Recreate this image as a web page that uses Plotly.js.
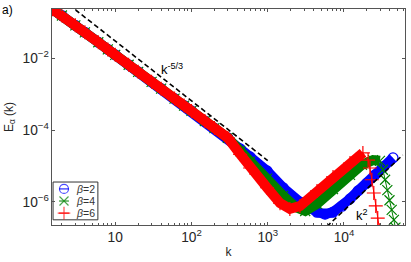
<!DOCTYPE html>
<html>
<head>
<meta charset="utf-8">
<script src="https://cdn.plot.ly/plotly-3.0.1.min.js"></script>
<style>html,body{margin:0;padding:0;background:#fff;}#chart{width:411px;height:262px;}</style>
</head>
<body>
<div id="chart"></div>
<script>
// ---- data (k, E_alpha(k)) ----
var kCommon = [1.5, 2, 3, 4, 6, 8, 10, 15, 20, 30, 40, 60, 80, 100, 150, 200, 300];
var eCommon = [0.235, 0.156, 0.083, 0.053, 0.028, 0.0177, 0.0125, 0.0066, 0.0042, 0.0022, 0.00142, 0.00075, 0.00048, 0.00034, 0.000178, 0.000113, 0.00006];

// beta = 2 (blue)
var kB2 = [435, 587, 980, 1590, 2650, 4430, 5640, 7180, 9420, 12000, 15300, 20000, 25500, 32400, 43900];
var eB2 = [2.96e-5, 1.77e-5, 7.2e-6, 2.45e-6, 9.8e-7, 5.1e-7, 4.5e-7, 5.1e-7, 7.5e-7, 1.2e-6, 2.0e-6, 3.3e-6, 5.6e-6, 9.4e-6, 1.67e-5];

// beta = 4 (green)
var kB4 = [435, 587, 980, 1590, 2300, 3100, 4430, 7180, 12000, 17200, 24000, 29600];
var eB4 = [2.6e-5, 1.3e-5, 4.4e-6, 1.46e-6, 7.1e-7, 5.5e-7, 8.7e-7, 2.24e-6, 5.6e-6, 1.07e-5, 1.45e-5, 1.38e-5];
var kB4tail = [29600, 32400, 34600, 37000, 39500, 42200, 45100, 47300];
var eB4tail = [1.38e-5, 7.8e-6, 4.1e-6, 2.1e-6, 1.1e-6, 5.9e-7, 3.1e-7, 1.9e-7];

// beta = 6 (red)
var kB6 = [435, 587, 980, 1450, 1950, 2650, 4430, 7180, 12000, 17700];
var eB6 = [2.1e-5, 8.7e-6, 2.45e-6, 9.1e-7, 6.3e-7, 7.6e-7, 2.0e-6, 4.9e-6, 1.2e-5, 2.3e-5];
var kB6tail = [17700, 20700, 21900, 23200, 24600, 26100, 27700, 29400];
var eB6tail = [2.3e-5, 1.45e-5, 8.7e-6, 4.1e-6, 1.75e-6, 7.6e-7, 3.5e-7, 1.6e-7];

// reference slopes
var refK53 = [3, 1000];
var refE53 = [0.226, 1.4e-5];
var refK2 = [5000, 59000];
var refE2 = [1.43e-7, 2.0e-5];

var seriesNames = ['\u03b2=2', '\u03b2=4', '\u03b2=6'];
var colors = ['#0000ff', '#008000', '#ff0000'];
var symbols = ['circle-open', 'x-thin-open', 'cross-thin-open'];

var body = [
  {k: kCommon.concat(kB2), e: eCommon.concat(eB2), tk: [], te: []},
  {k: kCommon.concat(kB4), e: eCommon.concat(eB4), tk: kB4tail, te: eB4tail},
  {k: kCommon.concat(kB6), e: eCommon.concat(eB6), tk: kB6tail, te: eB6tail}
];

var traces = [];
body.forEach(function (s, i) {
  traces.push({x: s.k, y: s.e, mode: 'lines', line: {color: colors[i], width: 10},
    hoverinfo: 'skip', showlegend: false});
  traces.push({x: s.k.concat(s.tk.slice(1)), y: s.e.concat(s.te.slice(1)), mode: 'lines+markers',
    name: seriesNames[i], showlegend: false,
    line: {color: colors[i], width: 1},
    marker: {symbol: symbols[i], size: 10, color: colors[i], line: {color: colors[i], width: 1.2}}});
});

traces.push({x: refK53, y: refE53, mode: 'lines', showlegend: false,
  line: {color: '#000', width: 1.6, dash: '5px,3px'}});
traces.push({x: refK2, y: refE2, mode: 'lines', showlegend: false,
  line: {color: '#000', width: 1.6, dash: '5px,3px'}});

// hand-built legend (drawn on an overlay axis in plot-fraction units)
var legRows = [0.167, 0.111, 0.055];
for (var i = 0; i < 3; i++) {
  traces.push({x: [0.020, 0.034, 0.048], y: [legRows[i], legRows[i], legRows[i]],
    xaxis: 'x2', yaxis: 'y2', mode: 'lines+markers', showlegend: false, hoverinfo: 'skip',
    line: {color: colors[i], width: 1},
    marker: {symbol: symbols[i], size: [0, 9, 0], color: colors[i], line: {color: colors[i], width: 1.2}}});
}

var font = {family: 'Liberation Sans, Arial, sans-serif', size: 11, color: '#262626'};
var labelFont = {family: 'Liberation Sans, Arial, sans-serif', size: 12, color: '#262626'};
var axisCommon = {
  type: 'log', showgrid: false, zeroline: false, showline: true, linecolor: '#555', linewidth: 1,
  mirror: 'allticks', ticks: 'inside', ticklen: 3, tickcolor: '#555', tickwidth: 1,
  exponentformat: 'power', tickfont: font
};

function legendText(txt, y) {
  return {text: txt, xref: 'paper', yref: 'paper', x: 0.064, y: y, xanchor: 'left', yanchor: 'middle',
    showarrow: false, borderpad: 0, font: {family: font.family, size: 10.5, color: '#333'}};
}

var layout = {
  width: 411, height: 262,
  margin: {l: 52, r: 6, t: 9, b: 37},
  paper_bgcolor: '#fff', plot_bgcolor: '#fff',
  font: font,
  showlegend: false,
  xaxis: Object.assign({}, axisCommon, {
    range: [0.171, 4.80], dtick: 1,
    minor: {ticks: 'inside', ticklen: 2, tickcolor: '#555', dtick: 'D1', showgrid: false},
    title: {text: 'k', font: labelFont, standoff: 3}
  }),
  yaxis: Object.assign({}, axisCommon, {
    range: [-6.65, -0.625], dtick: 2,
    title: {text: 'E<sub>\u03b1</sub> (k)', font: labelFont, standoff: 6}
  }),
  xaxis2: {overlaying: 'x', range: [0, 1], visible: false, anchor: 'y2', fixedrange: true},
  yaxis2: {overlaying: 'y', range: [0, 1], visible: false, anchor: 'x2', fixedrange: true},
  shapes: [
    {type: 'rect', xref: 'paper', yref: 'paper', x0: 0.003, x1: 0.130, y0: 0.024, y1: 0.199,
      line: {color: '#333', width: 1}, fillcolor: '#fff', layer: 'below'}
  ],
  annotations: [
    {text: 'a)', xref: 'paper', yref: 'paper', x: -0.147, y: 0.995, xanchor: 'left', yanchor: 'middle',
      showarrow: false, font: {family: font.family, size: 12, color: '#000'}},
    {text: 'k<sup>-5/3</sup>', xref: 'paper', yref: 'paper', x: 0.303, y: 0.72, xanchor: 'left', yanchor: 'middle',
      showarrow: false, font: {family: font.family, size: 13, color: '#000'}},
    {text: 'k<sup>2</sup>', xref: 'paper', yref: 'paper', x: 0.855, y: 0.045, xanchor: 'left', yanchor: 'middle',
      showarrow: false, font: {family: font.family, size: 13, color: '#000'}},
    legendText('<i>\u03b2</i>=2', legRows[0]),
    legendText('<i>\u03b2</i>=4', legRows[1]),
    legendText('<i>\u03b2</i>=6', legRows[2])
  ]
};

Plotly.newPlot('chart', traces, layout, {staticPlot: true, displayModeBar: false});
</script>
</body>
</html>
